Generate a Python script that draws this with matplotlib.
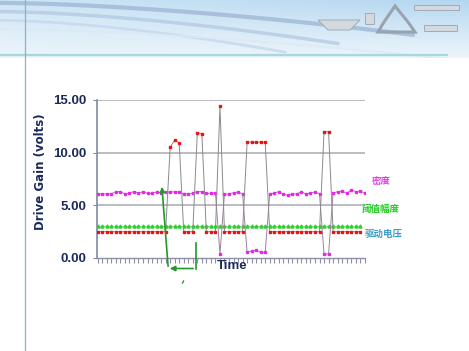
# Grafico de ganancia de accionamiento (Drive Gain) sobre fondo de diapositiva
import numpy as np
import matplotlib
matplotlib.use('Agg')
import matplotlib.pyplot as plt
from matplotlib.patches import Polygon, FancyBboxPatch, FancyArrowPatch

# Datos
drive_gain = ([2.5] * 16 + [10.5, 11.2, 10.9] + [2.5] * 3 + [11.9, 11.8] + [2.5] * 3 +
              [14.4] + [2.5] * 5 + [11.0] * 5 + [2.5] * 12 + [12.0, 12.0] + [2.5] * 7)
densidad = [6.08, 6.08, 6.08, 6.08, 6.3, 6.3, 6.08, 6.17, 6.3, 6.17,
            6.27, 6.14, 6.14, 6.27, 6.2, 6.25, 6.27, 6.27, 6.27, 6.08,
            6.08, 6.17, 6.3, 6.3, 6.14, 6.14, 6.2, 0.4, 6.05, 6.08,
            6.2, 6.25, 6.1, 0.54, 0.66, 0.73, 0.54, 0.54, 6.08, 6.14,
            6.3, 6.08, 5.95, 6.08, 6.08, 6.3, 6.08, 6.14, 6.27, 6.08,
            0.38, 0.38, 6.14, 6.3, 6.36, 6.14, 6.46, 6.3, 6.36, 6.14]
umbral = [3.0] * 59

etiquetas = ['密度', '阈值幅度', '驱动电压']
yticks = [0, 5, 10, 15]
ytick_labels = ['0.00', '5.00', '10.00', '15.00']

AZUL_TEXTO = '#1b2a5c'
W, H = 469, 351


def fx(px):
    return px / W


def fy(py):
    return 1 - py / H


fig = plt.figure(figsize=(W / 100, H / 100), dpi=100)
fig.patch.set_facecolor('white')

# Cabecera con degradado azul
ax_bg = fig.add_axes([0, fy(58), 1, 58 / H])
xs = np.linspace(0, 1, 300)
ys = np.linspace(0, 1, 60)
X, Y = np.meshgrid(xs, ys)
t = np.clip(0.35 + 0.65 * (1 - Y) * (0.55 + 0.45 * X), 0, 1) ** 1.3
azul = np.array([0.70, 0.84, 0.94])
img = np.ones((60, 300, 3)) * (1 - t[..., None]) + azul * t[..., None]
ax_bg.imshow(img, aspect='auto', extent=[0, 1, 1, 0])
# Curvas decorativas
for k, (a, c) in enumerate([(0.55, '#9fb8d6'), (0.45, '#b5cbe3'), (0.38, '#c6d8ec'), (0.62, '#dde9f5')]):
    u = np.linspace(0, 1, 100)
    ax_bg.plot(u * a * 1.6, 0.05 + 0.15 * k + 0.55 * u ** 1.6, color=c, lw=3 - 0.5 * k, alpha=0.8)
ax_bg.set_xlim(0, 1)
ax_bg.set_ylim(1, 0)
ax_bg.axis('off')

# Iconos grises de la cabecera
ax_ic = fig.add_axes([0, fy(58), 1, 58 / H])
ax_ic.set_xlim(0, W)
ax_ic.set_ylim(58, 0)
ax_ic.axis('off')
gris_c, gris_b = '#d3d9df', '#98a3ae'
ax_ic.add_patch(Polygon([[318, 20], [360, 20], [350, 30], [328, 30]], fc=gris_c, ec=gris_b, lw=0.6))
ax_ic.add_patch(Polygon([[395, 6], [384, 22], [378, 32], [415, 32], [408, 22]], closed=True,
                        fc='none', ec=gris_b, lw=2.2))
ax_ic.add_patch(FancyBboxPatch((415, 6), 44, 4, boxstyle='round,pad=0.5', fc=gris_c, ec=gris_b, lw=0.6))
ax_ic.add_patch(FancyBboxPatch((425, 26), 32, 5, boxstyle='round,pad=0.5', fc=gris_c, ec=gris_b, lw=0.6))
ax_ic.add_patch(FancyBboxPatch((366, 14), 8, 10, boxstyle='round,pad=0.5', fc=gris_c, ec=gris_b, lw=0.6))

# Lineas de la plantilla
fig.add_artist(plt.Line2D([fx(0), fx(447)], [fy(55), fy(55)], color='#a9d6df', lw=1.6))
fig.add_artist(plt.Line2D([fx(25), fx(25)], [0, 1], color='#7db7d6', lw=0.9))

# Ejes del grafico
ax = fig.add_axes([fx(97.2), fy(258), fx(365) - fx(97.2), fy(100) - fy(258)])
ax.set_xlim(-0.12, 59.05)
ax.set_ylim(0, 15)
for v in [5, 10, 15]:
    ax.axhline(v, color='#a8a8b2', lw=1.1, zorder=0)

x1 = np.arange(len(drive_gain))
x2 = np.arange(len(densidad))
x3 = np.arange(len(umbral))
ax.plot(x3, umbral, color='#7be07b', lw=0.8, marker='^', ms=2.2, mfc='#33cc33', mec='#33cc33', zorder=2)
ax.plot(x2, densidad, color='#a080a0', lw=0.7, marker='s', ms=1.6, mfc='#ee22ee', mec='#ee22ee', zorder=3)
ax.plot(x1, drive_gain, color='#8a8a8a', lw=0.7, marker='s', ms=1.6, mfc='#ee1111', mec='#ee1111', zorder=4)

for s in ['top', 'right']:
    ax.spines[s].set_visible(False)
ax.spines['left'].set_color('#7f8aa6')
ax.spines['bottom'].set_color('#8d90a6')
ax.spines['left'].set_linewidth(1.2)
ax.spines['bottom'].set_linewidth(1.0)
ax.set_yticks(yticks)
ax.set_yticklabels(ytick_labels, fontsize=9.5, fontweight='bold', color=AZUL_TEXTO,
                   family=['Liberation Sans', 'DejaVu Sans'])
ax.tick_params(axis='y', length=3, color='#7f8aa6', pad=5)
ax.set_xticks(np.arange(0, 60))
ax.set_xticklabels([])
ax.tick_params(axis='x', length=3.5, width=0.8, color='#8d90a6')
ax.set_ylabel('Drive Gain (volts)', fontsize=8.5, fontweight='bold', color=AZUL_TEXTO)
ax.yaxis.set_label_coords((47 - 97.2) / (365 - 97.2), (258 - 172) / 158)
ax.set_xlabel('Time', fontsize=9.5, fontweight='bold', color=AZUL_TEXTO,
              family=['Liberation Sans', 'DejaVu Sans'])
ax.xaxis.set_label_coords((232 - 97.2) / (365 - 97.2), -2 / 158)
ax.patch.set_alpha(0)

# Etiquetas de series en chino
cjk = ['Noto Sans CJK SC', 'DejaVu Sans']
fig.text(fx(372), fy(181), etiquetas[0], fontsize=6.8, color='#e040e0', family=cjk,
         fontweight='bold', va='center')
fig.text(fx(361), fy(209), etiquetas[1], fontsize=6.8, color='#22cc22', family=cjk,
         fontweight='bold', va='center')
fig.text(fx(365), fy(234), etiquetas[2], fontsize=6.8, color='#3a9cc8', family=cjk,
         fontweight='bold', va='center')

# Flechas verdes de anotacion
verde = '#1f9a2a'
fig.add_artist(FancyArrowPatch(
    (fx(168.3), fy(269)), (fx(161.7), fy(184)), transform=fig.transFigure,
    arrowstyle='-|>,head_length=3,head_width=1.5', color=verde, lw=1.2))
fig.add_artist(FancyArrowPatch(
    (fx(196), fy(268.5)), (fx(167), fy(268.5)), transform=fig.transFigure,
    arrowstyle='-|>,head_length=3,head_width=1.5', color=verde, lw=1.2))
fig.add_artist(plt.Line2D([fx(196), fx(196)], [fy(243), fy(269)], color=verde, lw=1.2))
fig.add_artist(plt.Line2D([fx(182.5), fx(183.5)], [fy(283), fy(281)], color=verde, lw=1.0))

fig.savefig('out.png', dpi=100, facecolor='white')
plt.close(fig)
